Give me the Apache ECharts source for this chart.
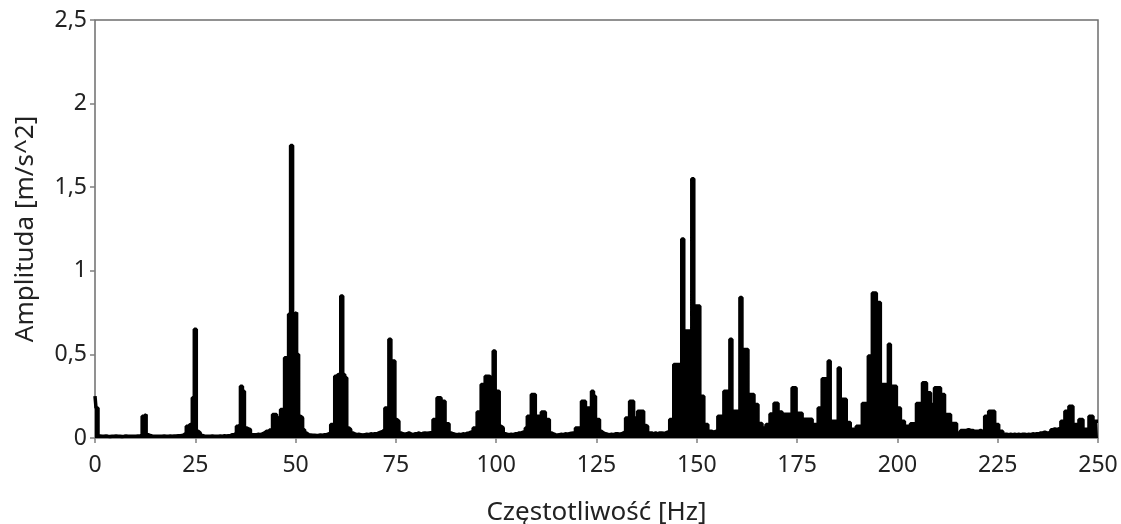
<!DOCTYPE html>
<html>
<head>
<meta charset="utf-8">
<title>Widmo amplitudowe</title>
<script src="https://cdn.jsdelivr.net/npm/echarts@6/dist/echarts.min.js"></script>
<style>
  html, body { margin: 0; padding: 0; background: #fff; }
  #chart { width: 1121px; height: 524px; }
</style>
</head>
<body>
<div id="chart"></div>
<script>
// krok widma: 0.5 Hz, od 0 do 250 Hz
const freqStep = 0.5

// amplitudy [m/s^2], jeden wiersz = 5 Hz
const amplitude = [
  0.25, 0.18, 0.012, 0.01, 0.01, 0.012, 0.01, 0.009, 0.011, 0.01,
  0.012, 0.01, 0.011, 0.009, 0.01, 0.012, 0.011, 0.01, 0.01, 0.011,
  0.01, 0.012, 0.011, 0.02, 0.13, 0.14, 0.02, 0.015, 0.012, 0.01,
  0.01, 0.011, 0.01, 0.01, 0.012, 0.01, 0.011, 0.012, 0.01, 0.012,
  0.012, 0.014, 0.013, 0.015, 0.02, 0.03, 0.07, 0.08, 0.08, 0.24,
  0.65, 0.04, 0.03, 0.015, 0.012, 0.01, 0.011, 0.01, 0.012, 0.01,
  0.011, 0.01, 0.012, 0.011, 0.013, 0.012, 0.014, 0.015, 0.02, 0.02,
  0.03, 0.07, 0.08, 0.31, 0.28, 0.06, 0.055, 0.05, 0.02, 0.02,
  0.02, 0.022, 0.02, 0.025, 0.03, 0.04, 0.04, 0.05, 0.04, 0.14,
  0.14, 0.1, 0.12, 0.17, 0.17, 0.48, 0.49, 0.74, 1.75, 0.74,
  0.75, 0.5, 0.13, 0.12, 0.05, 0.03, 0.02, 0.018, 0.016, 0.017,
  0.015, 0.016, 0.018, 0.017, 0.02, 0.02, 0.025, 0.03, 0.08, 0.08,
  0.37, 0.38, 0.38, 0.85, 0.38, 0.36, 0.06, 0.05, 0.03, 0.025,
  0.02, 0.022, 0.02, 0.018, 0.02, 0.022, 0.02, 0.025, 0.022, 0.025,
  0.025, 0.03, 0.035, 0.04, 0.05, 0.18, 0.18, 0.59, 0.46, 0.46,
  0.11, 0.1, 0.03, 0.025, 0.022, 0.025, 0.03, 0.025, 0.02, 0.025,
  0.025, 0.03, 0.022, 0.028, 0.03, 0.028, 0.03, 0.032, 0.03, 0.11,
  0.11, 0.24, 0.24, 0.22, 0.22, 0.085, 0.085, 0.03, 0.025, 0.022,
  0.02, 0.022, 0.02, 0.025, 0.022, 0.028, 0.03, 0.035, 0.04, 0.06,
  0.06, 0.155, 0.16, 0.32, 0.32, 0.37, 0.37, 0.36, 0.37, 0.52,
  0.28, 0.28, 0.07, 0.06, 0.025, 0.022, 0.02, 0.022, 0.02, 0.025,
  0.025, 0.03, 0.03, 0.035, 0.04, 0.06, 0.13, 0.13, 0.26, 0.26,
  0.13, 0.13, 0.13, 0.155, 0.155, 0.11, 0.11, 0.03, 0.025, 0.02,
  0.018, 0.02, 0.022, 0.02, 0.025, 0.022, 0.025, 0.028, 0.03, 0.03,
  0.06, 0.06, 0.06, 0.22, 0.22, 0.18, 0.18, 0.18, 0.28, 0.25,
  0.11, 0.11, 0.04, 0.03, 0.025, 0.022, 0.02, 0.022, 0.02, 0.025,
  0.025, 0.022, 0.025, 0.03, 0.04, 0.12, 0.12, 0.22, 0.22, 0.12,
  0.12, 0.16, 0.16, 0.16, 0.075, 0.07, 0.03, 0.03, 0.025, 0.03,
  0.025, 0.03, 0.03, 0.028, 0.03, 0.035, 0.04, 0.11, 0.11, 0.44,
  0.44, 0.44, 0.44, 1.19, 0.64, 0.64, 0.64, 0.64, 1.55, 0.79,
  0.79, 0.79, 0.25, 0.25, 0.08, 0.08, 0.04, 0.04, 0.035, 0.04,
  0.04, 0.13, 0.13, 0.13, 0.28, 0.28, 0.28, 0.59, 0.16, 0.16,
  0.16, 0.16, 0.84, 0.53, 0.53, 0.53, 0.26, 0.26, 0.26, 0.2,
  0.2, 0.086, 0.086, 0.06, 0.06, 0.08, 0.08, 0.143, 0.143, 0.208,
  0.208, 0.156, 0.156, 0.09, 0.142, 0.142, 0.142, 0.142, 0.3, 0.3,
  0.148, 0.148, 0.148, 0.06, 0.112, 0.112, 0.112, 0.112, 0.08, 0.08,
  0.08, 0.18, 0.18, 0.355, 0.355, 0.36, 0.46, 0.1, 0.1, 0.1,
  0.1, 0.418, 0.232, 0.232, 0.232, 0.092, 0.092, 0.052, 0.052, 0.052,
  0.07, 0.07, 0.07, 0.206, 0.206, 0.206, 0.49, 0.49, 0.867, 0.867,
  0.81, 0.81, 0.32, 0.32, 0.32, 0.32, 0.56, 0.31, 0.31, 0.31,
  0.18, 0.18, 0.1, 0.1, 0.07, 0.07, 0.07, 0.085, 0.085, 0.085,
  0.206, 0.206, 0.206, 0.33, 0.33, 0.27, 0.27, 0.2, 0.2, 0.3,
  0.3, 0.3, 0.26, 0.26, 0.14, 0.14, 0.14, 0.086, 0.086, 0.086,
  0.03, 0.03, 0.045, 0.045, 0.045, 0.05, 0.045, 0.045, 0.04, 0.04,
  0.04, 0.045, 0.04, 0.04, 0.13, 0.13, 0.16, 0.16, 0.16, 0.08,
  0.08, 0.04, 0.04, 0.022, 0.022, 0.02, 0.022, 0.02, 0.022, 0.02,
  0.022, 0.02, 0.022, 0.022, 0.02, 0.022, 0.02, 0.025, 0.022, 0.025,
  0.025, 0.03, 0.03, 0.035, 0.03, 0.03, 0.035, 0.05, 0.054, 0.05,
  0.055, 0.06, 0.1, 0.1, 0.16, 0.16, 0.19, 0.19, 0.08, 0.08,
  0.08, 0.11, 0.11, 0.052, 0.052, 0.052, 0.13, 0.13, 0.1, 0.1,
  0.1,
]

const font = 'Noto Sans'

const myChart = echarts.init(document.querySelector('#chart'))
myChart.setOption({
  animation: false,
  textStyle: { fontFamily: font },
  grid: {
    left: 95,
    right: 23,
    top: 20,
    bottom: 86,
    outerBoundsMode: 'none',
    show: true,
    borderColor: '#6e6e6e',
    borderWidth: 1.5,
  },
  xAxis: {
    type: 'value',
    min: 0,
    max: 250,
    interval: 25,
    name: 'Częstotliwość [Hz]',
    nameLocation: 'middle',
    nameGap: 62,
    nameTextStyle: { fontSize: 26, color: '#222', fontFamily: font },
    axisLine: { show: false },
    axisTick: { show: true, length: 5, lineStyle: { color: '#808080', width: 1.5 } },
    axisLabel: { fontSize: 23, color: '#222', margin: 16 },
    splitLine: { show: false },
  },
  yAxis: {
    type: 'value',
    min: 0,
    max: 2.5,
    interval: 0.5,
    name: 'Amplituda [m/s^2]',
    nameLocation: 'middle',
    nameGap: 56,
    nameTextStyle: { fontSize: 26, color: '#222', fontFamily: font },
    axisLine: { show: false },
    axisTick: { show: true, length: 5, lineStyle: { color: '#808080', width: 1.5 } },
    axisLabel: {
      fontSize: 23,
      color: '#222',
      margin: 8,
      formatter: (v) => String(v).replace('.', ','),
    },
    splitLine: { show: false },
  },
  series: [
    {
      type: 'line',
      step: 'middle',
      showSymbol: false,
      data: amplitude.map((a, i) => [i * freqStep, a]),
      lineStyle: { color: '#000', width: 3.5 },
      areaStyle: { color: '#000', opacity: 1 },
      z: 1,
    },
  ],
})
</script>
</body>
</html>
